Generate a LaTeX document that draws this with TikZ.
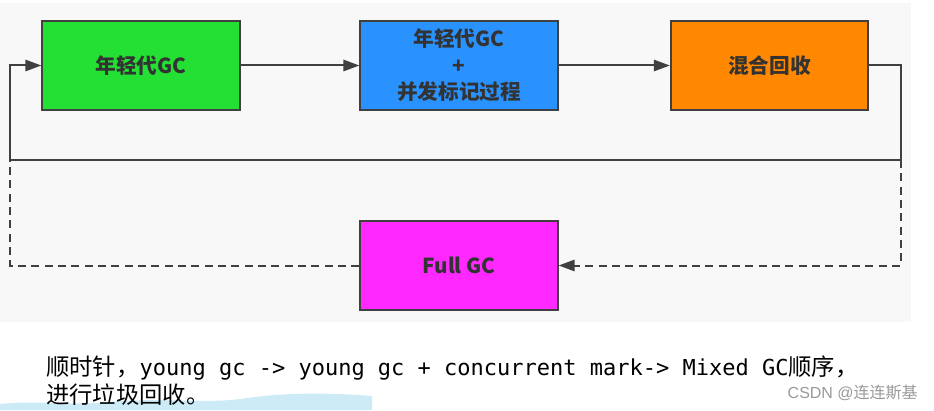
\documentclass[tikz,border=0pt]{standalone}
\usepackage{fontspec}
\usetikzlibrary{arrows.meta}
\newfontfamily\cjk{Noto Sans CJK SC}
\newfontfamily\cjkmono{DejaVu Sans Mono}
\newfontfamily\wmfont{Liberation Sans}
\definecolor{bgray}{RGB}{247,248,247}
\definecolor{ygreen}{RGB}{36,224,52}
\definecolor{mblue}{RGB}{42,146,255}
\definecolor{morange}{RGB}{255,136,0}
\definecolor{fpink}{RGB}{255,40,255}
\definecolor{edge}{RGB}{64,64,64}
\definecolor{wave}{RGB}{205,235,247}
\tikzset{
    gcbox/.style={draw=edge,line width=1.5pt,minimum width=148pt,minimum height=67pt,
                  text=edge!80!black,align=center,
                  font=\cjk\bfseries\fontsize{15.5}{20}\selectfont},
    flow/.style={edge,line width=1.5pt,-{Triangle[length=12pt,width=8.5pt]}},
    dashline/.style={edge,line width=1.5pt,dash pattern=on 6pt off 4pt}
}
\begin{document}
\begin{tikzpicture}[x=0.75pt,y=-0.75pt]
    \useasboundingbox (0,0) rectangle (934,410);
    \fill[bgray] (0,3) rectangle (911,322);
    \fill[wave] (0,410) -- (0,404) .. controls (40,400) and (70,406) .. (110,402)
                        .. controls (160,397) and (200,404) .. (240,399)
                        .. controls (280,393) and (320,392) .. (372,396)
                        -- (372,410) -- cycle;
    \node[gcbox,fill=ygreen]  (young) at (141,65.5) {年轻代GC};
    \node[gcbox,fill=mblue]   (mark)  at (459,65.5) {年轻代GC\\+\\并发标记过程};
    \node[gcbox,fill=morange] (mixed) at (769.5,65.5) {混合回收};
    \node[gcbox,fill=fpink]   (full)  at (459,265.5) {Full GC};
    \coordinate (lt) at (10,160);
    \coordinate (rt) at (901,160);
    \draw[flow] (young) -- (mark);
    \draw[flow] (mark) -- (mixed);
    \draw[flow] (mixed.east) -| (rt) -- (lt) |- (young.west);
    \draw[dashline,-{Triangle[length=12pt,width=8.5pt]}] (rt) |- (full.east);
    \draw[dashline] (full.west) -| (lt);
    \node[anchor=west,inner sep=0pt] (note1) at (46,368)
        {\cjk\fontsize{17.5}{21}\selectfont 顺时针，\cjkmono\fontsize{16.5}{21}\selectfont young gc -> young gc + concurrent mark-> Mixed GC\cjk\fontsize{17.5}{21}\selectfont 顺序，};
    \node[anchor=west,inner sep=0pt] (note2) at (46,395)
        {\cjk\fontsize{17.5}{21}\selectfont 进行垃圾回收。};
    \node[anchor=east,inner sep=0pt,text=gray!80,font=\fontsize{12}{14}\selectfont] (mark2) at (918,393)
        {\wmfont CSDN @\cjk 连连斯基};
\end{tikzpicture}
\end{document}
